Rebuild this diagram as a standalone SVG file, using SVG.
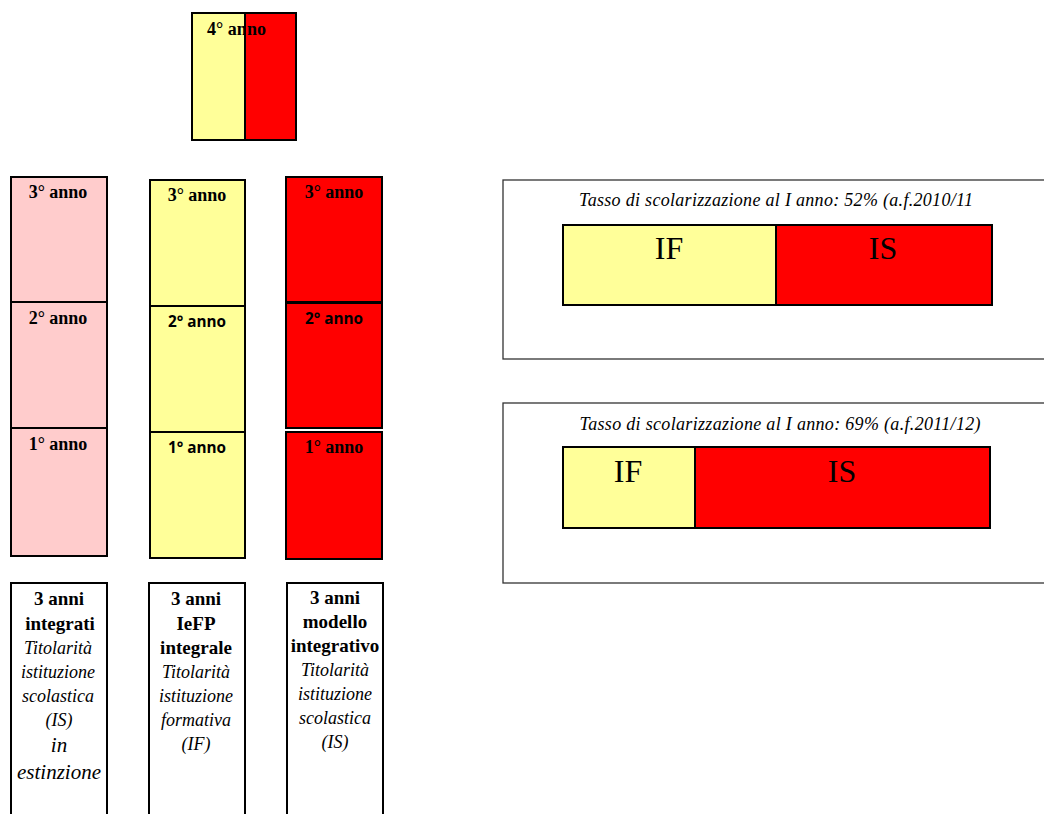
<svg xmlns="http://www.w3.org/2000/svg" width="1044" height="814" viewBox="0 0 1044 814">
<defs>
<clipPath id="clipY"><rect x="192" y="0" width="53" height="140"/></clipPath>
</defs>
<style>
.b{stroke:#000;stroke-width:2}
.pink{fill:#FFCCCC}
.yel{fill:#FFFF99}
.red{fill:#FF0000}
.wh{fill:#fff}
.lab{font-family:"Liberation Serif",serif;font-weight:bold;font-size:18px;text-anchor:middle;fill:#000}
.labs{font-family:"Open Sans","Liberation Sans",sans-serif;font-weight:bold;font-size:15.3px;text-anchor:middle;fill:#000}
.cap{font-family:"Liberation Serif",serif;font-size:18px;text-anchor:middle;fill:#000}
.it{font-style:italic}
.bd{font-weight:bold;font-size:19px}
.panel{fill:#fff;stroke:#333;stroke-width:1.3}
.tt{font-family:"Liberation Serif",serif;font-style:italic;font-size:18px;text-anchor:middle;fill:#000}
.big{font-family:"Liberation Serif",serif;font-size:32px;text-anchor:middle;fill:#000}
</style>
<g id="anno4">
<rect class="b yel" x="192" y="13" width="53" height="127"/>
<text class="lab" x="207" y="35" style="text-anchor:start" font-size="17" clip-path="url(#clipY)">4° an</text>
<rect class="b red" x="245" y="13" width="51" height="127"/>
<text class="lab" x="247" y="35" style="text-anchor:start" font-size="17">no</text>
</g>
<g id="col1">
<rect class="b pink" x="11" y="177" width="96" height="125"/>
<rect class="b pink" x="11" y="302" width="96" height="126"/>
<rect class="b pink" x="11" y="428" width="96" height="128"/>
<text class="lab" x="58" y="198">3° anno</text>
<text class="lab" x="58" y="324">2° anno</text>
<text class="lab" x="58" y="450">1° anno</text>
</g>
<g id="col2">
<rect class="b yel" x="150" y="180" width="95" height="126"/>
<rect class="b yel" x="150" y="306" width="95" height="126"/>
<rect class="b yel" x="150" y="432" width="95" height="126"/>
<text class="lab" x="197" y="201">3° anno</text>
<text class="labs" x="197" y="327">2° anno</text>
<text class="labs" x="197" y="453">1° anno</text>
</g>
<g id="col3">
<rect class="b red" x="286" y="177" width="96" height="125"/>
<rect class="b red" x="286" y="303" width="96" height="125"/>
<rect class="b red" x="286" y="432" width="96" height="127"/>
<text class="lab" x="334" y="198">3° anno</text>
<text class="labs" x="334" y="324">2° anno</text>
<text class="lab" x="334" y="453">1° anno</text>
</g>
<g id="desc1">
<rect class="b wh" x="11" y="583" width="96" height="240"/>
<text class="cap" x="59"><tspan class="bd" x="59" y="605">3 anni</tspan><tspan class="bd" x="60" y="630">integrati</tspan><tspan class="it" x="58" y="654">Titolarità</tspan><tspan class="it" x="58" y="678">istituzione</tspan><tspan class="it" x="58" y="702">scolastica</tspan><tspan class="it" x="59" y="726">(IS)</tspan><tspan class="it" x="59" y="752" font-size="21">in</tspan><tspan class="it" x="59" y="779" font-size="21">estinzione</tspan></text>
</g>
<g id="desc2">
<rect class="b wh" x="149" y="583" width="96" height="240"/>
<text class="cap" x="196"><tspan class="bd" x="196" y="605">3 anni</tspan><tspan class="bd" x="196" y="630">IeFP</tspan><tspan class="bd" x="196" y="654">integrale</tspan><tspan class="it" x="196" y="678">Titolarità</tspan><tspan class="it" x="196" y="702">istituzione</tspan><tspan class="it" x="196" y="726">formativa</tspan><tspan class="it" x="196" y="750">(IF)</tspan></text>
</g>
<g id="desc3">
<rect class="b wh" x="287" y="583" width="96" height="240"/>
<text class="cap" x="335"><tspan class="bd" x="335" y="604">3 anni</tspan><tspan class="bd" x="335" y="628">modello</tspan><tspan class="bd" x="335" y="652">integrativo</tspan><tspan class="it" x="335" y="676">Titolarità</tspan><tspan class="it" x="335" y="700">istituzione</tspan><tspan class="it" x="335" y="724">scolastica</tspan><tspan class="it" x="335" y="748">(IS)</tspan></text>
</g>
<g id="panel1">
<rect class="panel" x="503" y="180" width="560" height="179"/>
<text class="tt" x="776" y="206" textLength="394" lengthAdjust="spacing">Tasso di scolarizzazione al I anno: 52% (a.f.2010/11</text>
<rect class="b yel" x="563" y="225" width="213" height="80"/>
<rect class="b red" x="776" y="225" width="216" height="80"/>
<text class="big" x="669" y="259">IF</text>
<text class="big" x="883" y="259">IS</text>
</g>
<g id="panel2">
<rect class="panel" x="503" y="403" width="560" height="180"/>
<text class="tt" x="780" y="430" textLength="401" lengthAdjust="spacing">Tasso di scolarizzazione al I anno: 69% (a.f.2011/12)</text>
<rect class="b yel" x="563" y="447" width="132" height="81"/>
<rect class="b red" x="695" y="447" width="295" height="81"/>
<text class="big" x="628" y="482">IF</text>
<text class="big" x="842" y="482">IS</text>
</g>
<g id="connectors"/>
</svg>
